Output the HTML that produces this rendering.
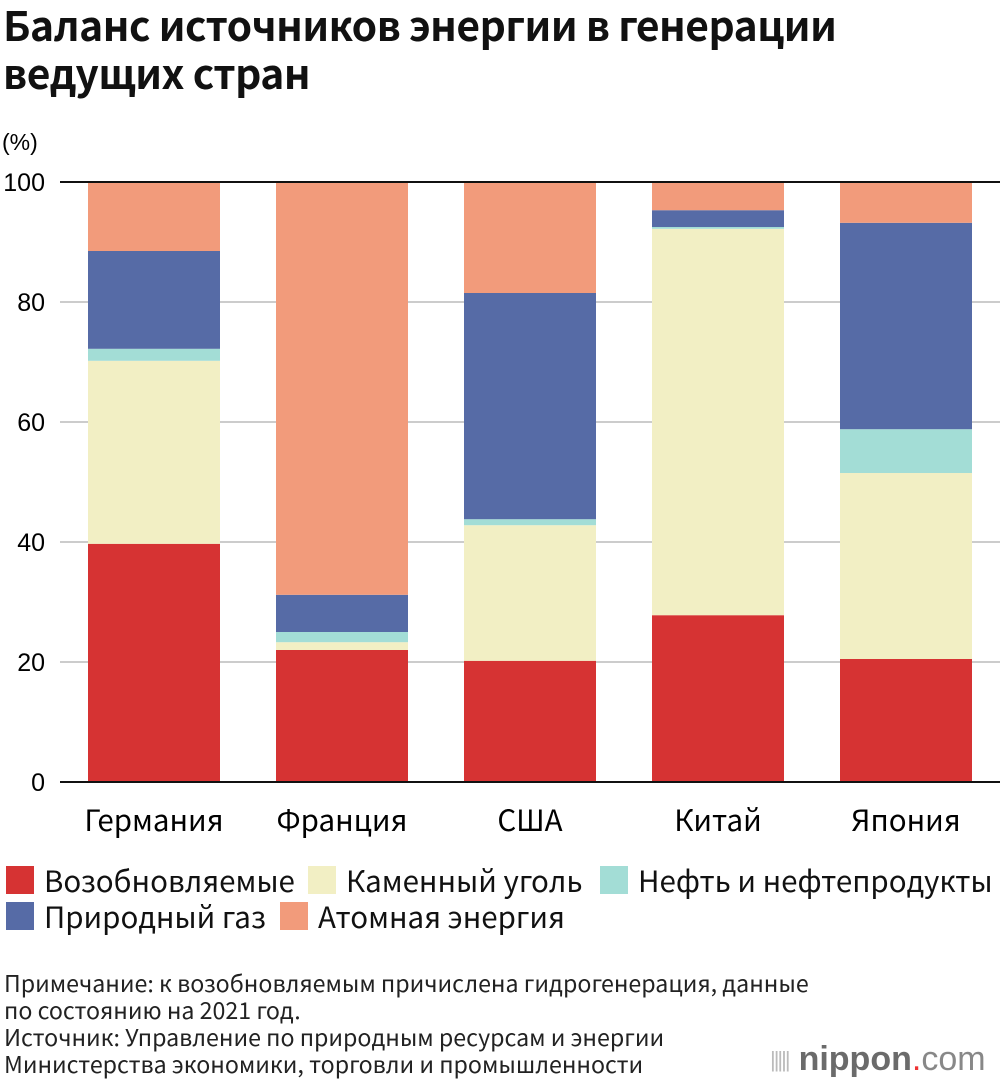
<!DOCTYPE html>
<html><head><meta charset="utf-8"><style>
body{margin:0;width:1000px;height:1088px;background:#fff;font-family:"Noto Sans CJK JP","Liberation Sans",sans-serif;position:relative;overflow:hidden;color:#111}
.t{position:absolute;left:3px;top:0px;font-size:40.8px;font-weight:bold;line-height:48px;letter-spacing:-0.5px}
.note{position:absolute;left:4px;top:969px;font-size:23.2px;line-height:27px;color:#222}
.leg{position:absolute;font-size:29.5px;line-height:34px;display:flex;align-items:center}
.sw{width:28px;height:28px;margin-right:10px}
</style></head><body>
<div class="t">Баланс источников энергии в генерации<br>ведущих стран</div>
<svg id="c" width="1000" height="850" style="position:absolute;left:0;top:0;font-family:'Liberation Sans',sans-serif"></svg>
<div class="leg" style="left:6px;top:863px"><div class="sw" style="background:#d63333"></div>Возобновляемые</div>
<div class="leg" style="left:308px;top:863px"><div class="sw" style="background:#f2efc4"></div>Каменный уголь</div>
<div class="leg" style="left:600px;top:863px"><div class="sw" style="background:#a3ddd6"></div>Нефть и нефтепродукты</div>
<div class="leg" style="left:6px;top:899px"><div class="sw" style="background:#566ba6"></div>Природный газ</div>
<div class="leg" style="left:280px;top:899px"><div class="sw" style="background:#f29b7b"></div>Атомная энергия</div>
<div class="note">Примечание: к возобновляемым причислена гидрогенерация, данные<br>по состоянию на 2021 год.<br>Источник: Управление по природным ресурсам и энергии<br>Министерства экономики, торговли и промышленности</div>
<div style="position:absolute;left:770px;top:1040px;font-family:'Liberation Sans',sans-serif;font-size:34px;color:#6b6b6b;display:flex;align-items:center"><span style="font-size:22px;color:#bbb;letter-spacing:-2px;margin-right:10px">|||||</span><b>nippon</b><span style="color:#e33">.</span><span style="color:#888">com</span></div>
<script>
const categories=["Германия","Франция","США","Китай","Япония"];
const renewables=[39.7,22,20.2,27.8,20.5];
const coal=[30.5,1.3,22.6,64.4,31];
const oil=[2.0,1.7,1.0,0.3,7.3];
const gas=[16.3,6.2,37.7,2.8,34.4];
const nuclear=[11.5,68.8,18.5,4.7,6.8];
const yTicks=[0,20,40,60,80,100];
const series=[renewables,coal,oil,gas,nuclear];
const colors=["#d63333","#f2efc4","#a3ddd6","#566ba6","#f29b7b"];
const names=["renewables","coal","oil","gas","nuclear"];
const svg=document.getElementById('c');const NS="http://www.w3.org/2000/svg";
const yS=v=>782-v*6;const xS=i=>88+i*188;const bw=132;
function mk(t,a){const e=document.createElementNS(NS,t);for(const k in a)e.setAttribute(k,a[k]);svg.appendChild(e);return e;}
let unit=mk('text',{x:2,y:150,'font-size':23});unit.textContent='(%)';


yTicks.forEach(v=>{
 const g=mk('line',{x1:60,x2:1000,y1:yS(v),y2:yS(v),stroke:(v==100||v==0)?'#111':'#ccc','stroke-width':2});
 
 
 const t=mk('text',{x:45,y:yS(v)+9,'font-size':25,'text-anchor':'end'});t.textContent=v;
 
 
});
categories.forEach((c,i)=>{
 let acc=0;
 series.forEach((s,j)=>{
  const r=mk('rect',{x:xS(i),y:yS(acc+s[i]),width:bw,height:s[i]*6,fill:colors[j]});
  
  
  acc+=s[i];
 });
 const t=mk('text',{x:xS(i)+bw/2,y:831,'font-size':29.5,'text-anchor':'middle'});t.setAttribute('font-family','Noto Sans CJK JP, sans-serif');t.textContent=c;
 
 
});
const topLine=mk('line',{x1:60,x2:1000,y1:182,y2:182,stroke:'#111','stroke-width':2});


const baseLine=mk('line',{x1:60,x2:1000,y1:782,y2:782,stroke:'#111','stroke-width':2});


</script>
</body></html>
